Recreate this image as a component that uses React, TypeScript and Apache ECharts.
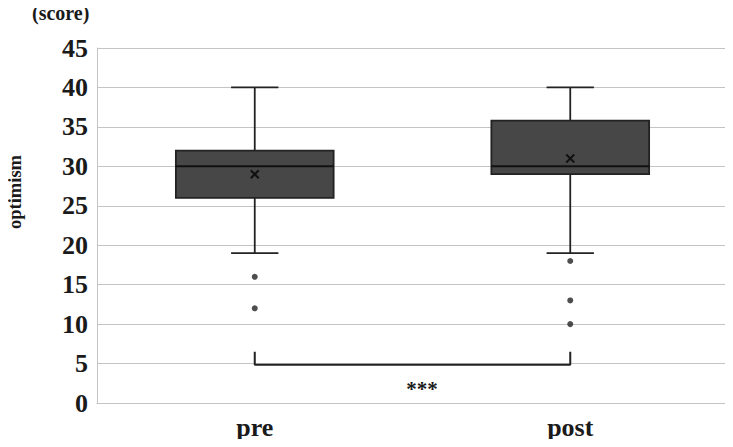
import React, { useEffect, useRef } from "react";
import * as echarts from "echarts";

const categories = ["pre", "post"];
const whiskerLow = [19, 19];
const q1 = [26, 29];
const median = [30, 30];
const q3 = [32, 35.8];
const whiskerHigh = [40, 40];
const means = [29, 31];
const outliers: [number, number][] = [
  [0, 16],
  [0, 12],
  [1, 18],
  [1, 13],
  [1, 10],
];
const bracketTop = 6.5;
const bracketBase = 4.85;
const yTicks = { min: 0, max: 45, interval: 5 };

const SERIF = "Liberation Serif";

export default function App() {
  const ref = useRef<HTMLDivElement>(null);
  useEffect(() => {
    if (!ref.current) return;
    const chart = echarts.init(ref.current, null, { renderer: "svg" });
    const boxData = categories.map((_, i) => [
      i,
      whiskerLow[i],
      q1[i],
      median[i],
      q3[i],
      whiskerHigh[i],
      means[i],
    ]);
    const stroke = "#222";
    chart.setOption({
      animation: false,
      textStyle: { fontFamily: SERIF },
      grid: { left: 97, right: 5, top: 48, bottom: 44 },
      xAxis: {
        type: "category",
        data: categories,
        axisLine: { show: true, lineStyle: { color: "#c4c4c4", width: 1 } },
        axisTick: { show: false },
        axisLabel: {
          fontFamily: SERIF,
          fontWeight: "bold",
          fontSize: 26,
          color: "#1a1a1a",
          margin: 11,
        },
        splitLine: { show: false },
      },
      yAxis: {
        type: "value",
        min: yTicks.min,
        max: yTicks.max,
        interval: yTicks.interval,
        axisLine: { show: true, lineStyle: { color: "#c4c4c4", width: 1 } },
        axisTick: { show: false },
        axisLabel: {
          fontFamily: SERIF,
          fontWeight: "bold",
          fontSize: 26,
          color: "#1a1a1a",
          margin: 9,
        },
        splitLine: { show: true, lineStyle: { color: "#c4c4c4", width: 1.2 } },
      },
      graphic: [
        {
          type: "text",
          left: 32,
          top: 3,
          style: {
            text: "(score)",
            fontFamily: SERIF,
            fontWeight: "bold",
            fontSize: 20,
            fill: "#1a1a1a",
          },
        },
        {
          type: "text",
          x: 15,
          y: 192,
          rotation: Math.PI / 2,
          style: {
            text: "optimism",
            fontFamily: SERIF,
            fontWeight: "bold",
            fontSize: 18.5,
            fill: "#1a1a1a",
            align: "center",
            verticalAlign: "middle",
          },
        },
        {
          type: "text",
          x: 422,
          y: 389,
          style: {
            text: "***",
            fontFamily: SERIF,
            fontWeight: "bold",
            fontSize: 21,
            fill: "#1a1a1a",
            align: "center",
            verticalAlign: "middle",
          },
        },
      ],
      series: [
        {
          type: "custom",
          data: boxData,
          encode: { x: 0, y: [1, 2, 3, 4, 5] },
          renderItem: (params: any, api: any) => {
            const idx = api.value(0);
            const band = api.size([1, 0])[0];
            const boxW = band * 0.5;
            const capW = band * 0.15;
            const pLow = api.coord([idx, api.value(1)]);
            const pQ1 = api.coord([idx, api.value(2)]);
            const pMed = api.coord([idx, api.value(3)]);
            const pQ3 = api.coord([idx, api.value(4)]);
            const pHigh = api.coord([idx, api.value(5)]);
            const pMean = api.coord([idx, api.value(6)]);
            const cx = pMed[0];
            const ls = { stroke, lineWidth: 1.8, fill: "none" };
            const m = 4;
            return {
              type: "group",
              children: [
                { type: "line", shape: { x1: cx, y1: pHigh[1], x2: cx, y2: pQ3[1] }, style: ls },
                { type: "line", shape: { x1: cx, y1: pQ1[1], x2: cx, y2: pLow[1] }, style: ls },
                { type: "line", shape: { x1: cx - capW / 2, y1: pHigh[1], x2: cx + capW / 2, y2: pHigh[1] }, style: ls },
                { type: "line", shape: { x1: cx - capW / 2, y1: pLow[1], x2: cx + capW / 2, y2: pLow[1] }, style: ls },
                {
                  type: "rect",
                  shape: { x: cx - boxW / 2, y: pQ3[1], width: boxW, height: pQ1[1] - pQ3[1] },
                  style: { fill: "#474747", stroke, lineWidth: 1.8 },
                },
                { type: "line", shape: { x1: cx - boxW / 2, y1: pMed[1], x2: cx + boxW / 2, y2: pMed[1] }, style: { stroke: "#111", lineWidth: 2 } },
                { type: "line", shape: { x1: cx - m, y1: pMean[1] - m, x2: cx + m, y2: pMean[1] + m }, style: { stroke: "#111", lineWidth: 2 } },
                { type: "line", shape: { x1: cx - m, y1: pMean[1] + m, x2: cx + m, y2: pMean[1] - m }, style: { stroke: "#111", lineWidth: 2 } },
              ],
            };
          },
          z: 3,
        },
        {
          type: "scatter",
          data: outliers,
          symbol: "circle",
          symbolSize: 6,
          itemStyle: { color: "#222" },
          z: 4,
        },
        {
          type: "line",
          data: [
            [0, bracketTop],
            [0, bracketBase],
            [1, bracketBase],
            [1, bracketTop],
          ],
          symbol: "none",
          lineStyle: { color: "#222", width: 2 },
          z: 4,
        },
      ],
    });
    return () => chart.dispose();
  }, []);
  return <div ref={ref} style={{ width: 733, height: 447, margin: -8 }} />;
}
